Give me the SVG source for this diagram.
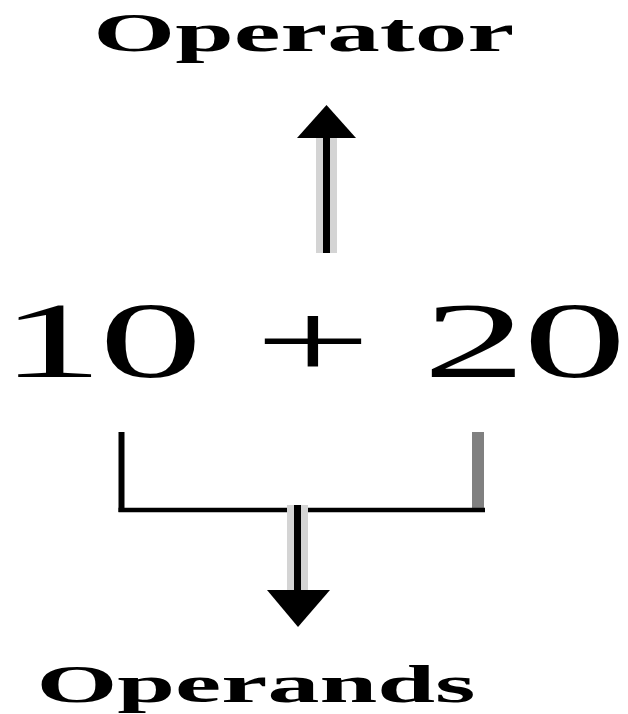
<svg xmlns="http://www.w3.org/2000/svg" width="628" height="714" viewBox="0 0 628 714">
  <style>
    .lbl { font-family: "Liberation Serif", "Times New Roman", serif; font-weight: bold; fill: #000; }
    .expr { font-family: "Liberation Serif", "Times New Roman", serif; font-weight: normal; fill: #000; }
    .halo { stroke: #d4d4d4; fill: none; }
    .shaft { stroke: #000; fill: none; }
    .head { fill: #000; stroke: none; }
  </style>
  <rect width="628" height="714" fill="#fff"/>

  <g id="operator">
    <text class="lbl" font-size="54" transform="translate(93.3,51) scale(1.95,1)">Operator</text>
  </g>

  <g id="expression">
    <text class="expr" font-size="109" transform="translate(0,377) scale(1.9,1)" x="0 52.1 106.6 133.9 195.3 222.5 275.3">10 + 20</text>
  </g>

  <g id="operands">
    <text class="lbl" font-size="52" transform="translate(36.4,702) scale(2,1)">Operands</text>
  </g>

  <g id="connectors">
    <!-- up arrow to Operator -->
    <line class="halo" x1="326.5" y1="138" x2="326.5" y2="253" stroke-width="21"/>
    <line class="shaft" x1="326.5" y1="136" x2="326.5" y2="253" stroke-width="7"/>
    <polygon class="head" points="326.5,105 297,138 356,138"/>

    <!-- bracket under the operands -->
    <line class="shaft" x1="121.5" y1="432" x2="121.5" y2="512" stroke-width="6"/>
    <rect x="472" y="432" width="12" height="80" fill="#808080"/>
    <line class="shaft" x1="118.5" y1="510" x2="485" y2="510" stroke-width="4.5"/>

    <!-- down arrow to Operands -->
    <line class="halo" x1="297.5" y1="505" x2="297.5" y2="590" stroke-width="21"/>
    <line class="shaft" x1="297.5" y1="505" x2="297.5" y2="592" stroke-width="7"/>
    <polygon class="head" points="267,590 330,590 298,627"/>
  </g>
</svg>
